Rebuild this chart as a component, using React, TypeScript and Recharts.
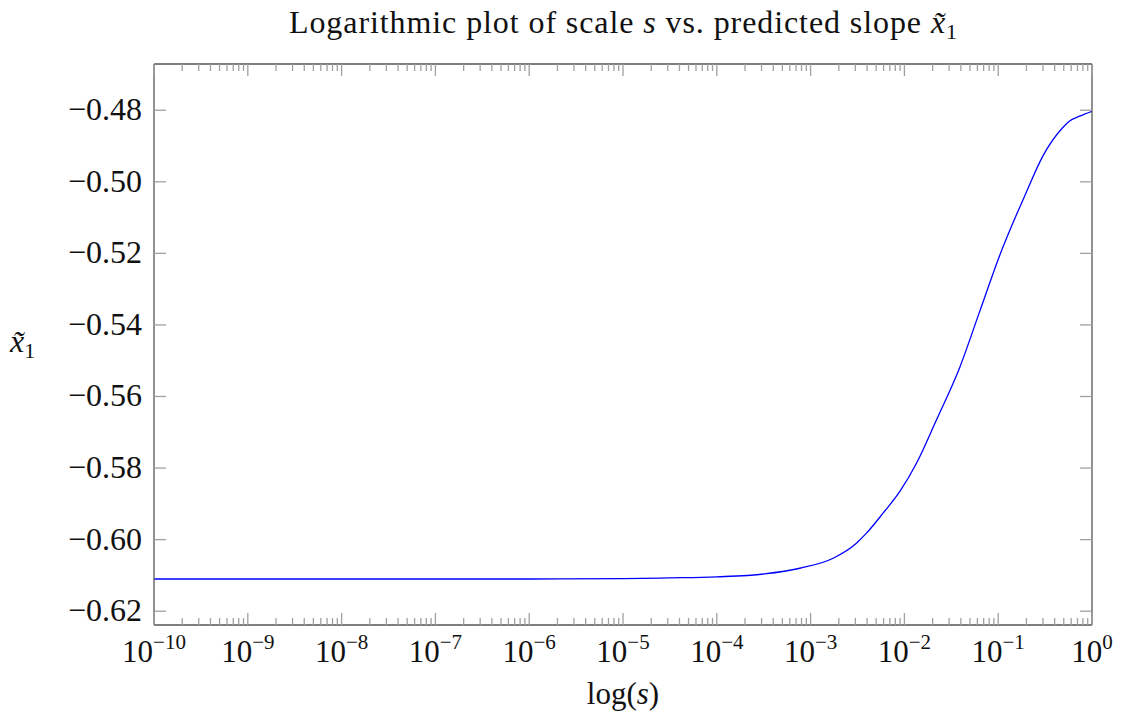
import React from "react";
import { LineChart, Line, XAxis, YAxis } from "recharts";

// ---- data ----
const sValues = [
  1e-10, 1e-9, 1e-8, 1e-7, 1e-6, 1e-5, 3e-5, 1e-4, 3.2e-4, 7.67e-4, 1.74e-3,
  3.08e-3, 3.94e-3, 5.92e-3, 8.91e-3, 1.35e-2, 2.2e-2, 3.9e-2, 6.3e-2, 0.103,
  0.198, 0.298, 0.486, 0.573, 0.75, 1,
];
const slopeValues = [
  -0.611, -0.611, -0.611, -0.611, -0.611, -0.6109, -0.6107, -0.6104, -0.6096,
  -0.608, -0.6052, -0.601, -0.5982, -0.5926, -0.5866, -0.5786, -0.5665,
  -0.5518, -0.5365, -0.5208, -0.5031, -0.4929, -0.4849, -0.4831, -0.4816,
  -0.4803,
];
const majorExponents = [-10, -9, -8, -7, -6, -5, -4, -3, -2, -1, 0];
const minorMultipliers = [2, 3, 4, 5, 6, 7, 8, 9];
const yTicks = [-0.62, -0.6, -0.58, -0.56, -0.54, -0.52, -0.5, -0.48];
const yDomain = [-0.62386, -0.46708];
const titleText = "Logarithmic plot of scale ";
const titleMid = " vs. predicted slope ";
const xLabelText = "log(";

const data = sValues.map((s, i) => ({ s, v: slopeValues[i] }));

const majorTicks = majorExponents.map((e) => Number(`1e${e}`));
const minorTicks: number[] = [];
majorExponents.slice(0, -1).forEach((e) => {
  minorMultipliers.forEach((m) => minorTicks.push(Number(`${m}e${e}`)));
});
const allXTicks = [...majorTicks, ...minorTicks].sort((a, b) => a - b);
const majorSet = new Set(majorTicks);

const FONT = "'Liberation Serif', 'DejaVu Serif', serif";
const TICK_COLOR = "#a0a0a0";
const FRAME_COLOR = "#555555";
const MAJOR = 12;
const MINOR = 7;

const BottomTick = (props: any) => {
  const { x, y, payload } = props;
  const v = payload.value;
  const isMajor = majorSet.has(v);
  const exp = Math.round(Math.log10(v));
  return (
    <g>
      <line x1={x} x2={x} y1={y} y2={y - (isMajor ? MAJOR : MINOR)} stroke={TICK_COLOR} strokeWidth={1.3} />
      {isMajor && (
        <text x={x} y={y + 37} textAnchor="middle" fontFamily={FONT} fontSize={31} fill="#111">
          <tspan>10</tspan>
          <tspan dy={-13} fontSize={21}>{exp < 0 ? `\u2212${-exp}` : `${exp}`}</tspan>
        </text>
      )}
    </g>
  );
};

const TopTick = (props: any) => {
  const { x, y, payload } = props;
  const isMajor = majorSet.has(payload.value);
  return (
    <line x1={x} x2={x} y1={y} y2={y + (isMajor ? MAJOR : MINOR)} stroke={TICK_COLOR} strokeWidth={1.3} />
  );
};

const LeftTick = (props: any) => {
  const { x, y, payload } = props;
  const label = `\u2212${Math.abs(payload.value).toFixed(2)}`;
  return (
    <g>
      <line x1={x} x2={x + MAJOR} y1={y} y2={y} stroke={TICK_COLOR} strokeWidth={1.3} />
      <text x={x - 12} y={y} dy={10} textAnchor="end" fontFamily={FONT} fontSize={32} fill="#111">
        {label}
      </text>
    </g>
  );
};

const RightTick = (props: any) => {
  const { x, y } = props;
  return <line x1={x} x2={x - MAJOR} y1={y} y2={y} stroke={TICK_COLOR} strokeWidth={1.3} />;
};

export default function App() {
  return (
    <div style={{ position: "absolute", left: 0, top: 0, width: 1128, height: 721, background: "#fff" }}>
      <LineChart
        width={1128}
        height={721}
        data={data}
        margin={{ top: 54, right: 26, bottom: 46, left: 94 }}
      >
        <XAxis
          xAxisId="bottom"
          dataKey="s"
          type="number"
          scale="log"
          domain={[1e-10, 1]}
          allowDataOverflow
          ticks={allXTicks}
          interval={0}
          height={50}
          tickSize={0}
          tickMargin={0}
          tickLine={false}
          axisLine={{ stroke: FRAME_COLOR, strokeWidth: 1.3 }}
          tick={<BottomTick />}
        />
        <XAxis
          xAxisId="top"
          orientation="top"
          dataKey="s"
          type="number"
          scale="log"
          domain={[1e-10, 1]}
          allowDataOverflow
          ticks={allXTicks}
          interval={0}
          height={10}
          tickSize={0}
          tickMargin={0}
          tickLine={false}
          axisLine={{ stroke: FRAME_COLOR, strokeWidth: 1.3 }}
          tick={<TopTick />}
        />
        <YAxis
          yAxisId="left"
          type="number"
          domain={yDomain}
          allowDataOverflow
          ticks={yTicks}
          interval={0}
          width={60}
          tickSize={0}
          tickMargin={0}
          tickLine={false}
          axisLine={{ stroke: FRAME_COLOR, strokeWidth: 1.3 }}
          tick={<LeftTick />}
        />
        <YAxis
          yAxisId="right"
          orientation="right"
          type="number"
          domain={yDomain}
          allowDataOverflow
          ticks={yTicks}
          interval={0}
          width={10}
          tickSize={0}
          tickMargin={0}
          tickLine={false}
          axisLine={{ stroke: FRAME_COLOR, strokeWidth: 1.3 }}
          tick={<RightTick />}
        />
        <Line
          xAxisId="bottom"
          yAxisId="left"
          dataKey="v"
          type="monotone"
          stroke="#0000ff"
          strokeWidth={1.3}
          dot={false}
          isAnimationActive={false}
        />
      </LineChart>
      <svg
        width={1128}
        height={721}
        style={{ position: "absolute", left: 0, top: 0, pointerEvents: "none" }}
      >
        <text x={289} y={33} textLength={668} lengthAdjust="spacing" fontFamily={FONT} fontSize={32} fill="#111">
          <tspan>{titleText}</tspan>
          <tspan fontStyle="italic">s</tspan>
          <tspan>{titleMid}</tspan>
          <tspan fontStyle="italic">{"x\u0303"}</tspan>
          <tspan fontSize={22} dy={6}>1</tspan>
        </text>
        <text x={10} y={352} fontFamily={FONT} fontSize={32} fill="#111">
          <tspan fontStyle="italic">{"x\u0303"}</tspan>
          <tspan fontSize={22} dy={6}>1</tspan>
        </text>
        <text x={623} y={704} textAnchor="middle" fontFamily={FONT} fontSize={31} fill="#111">
          <tspan>{xLabelText}</tspan>
          <tspan fontStyle="italic">s</tspan>
          <tspan>)</tspan>
        </text>
      </svg>
    </div>
  );
}
